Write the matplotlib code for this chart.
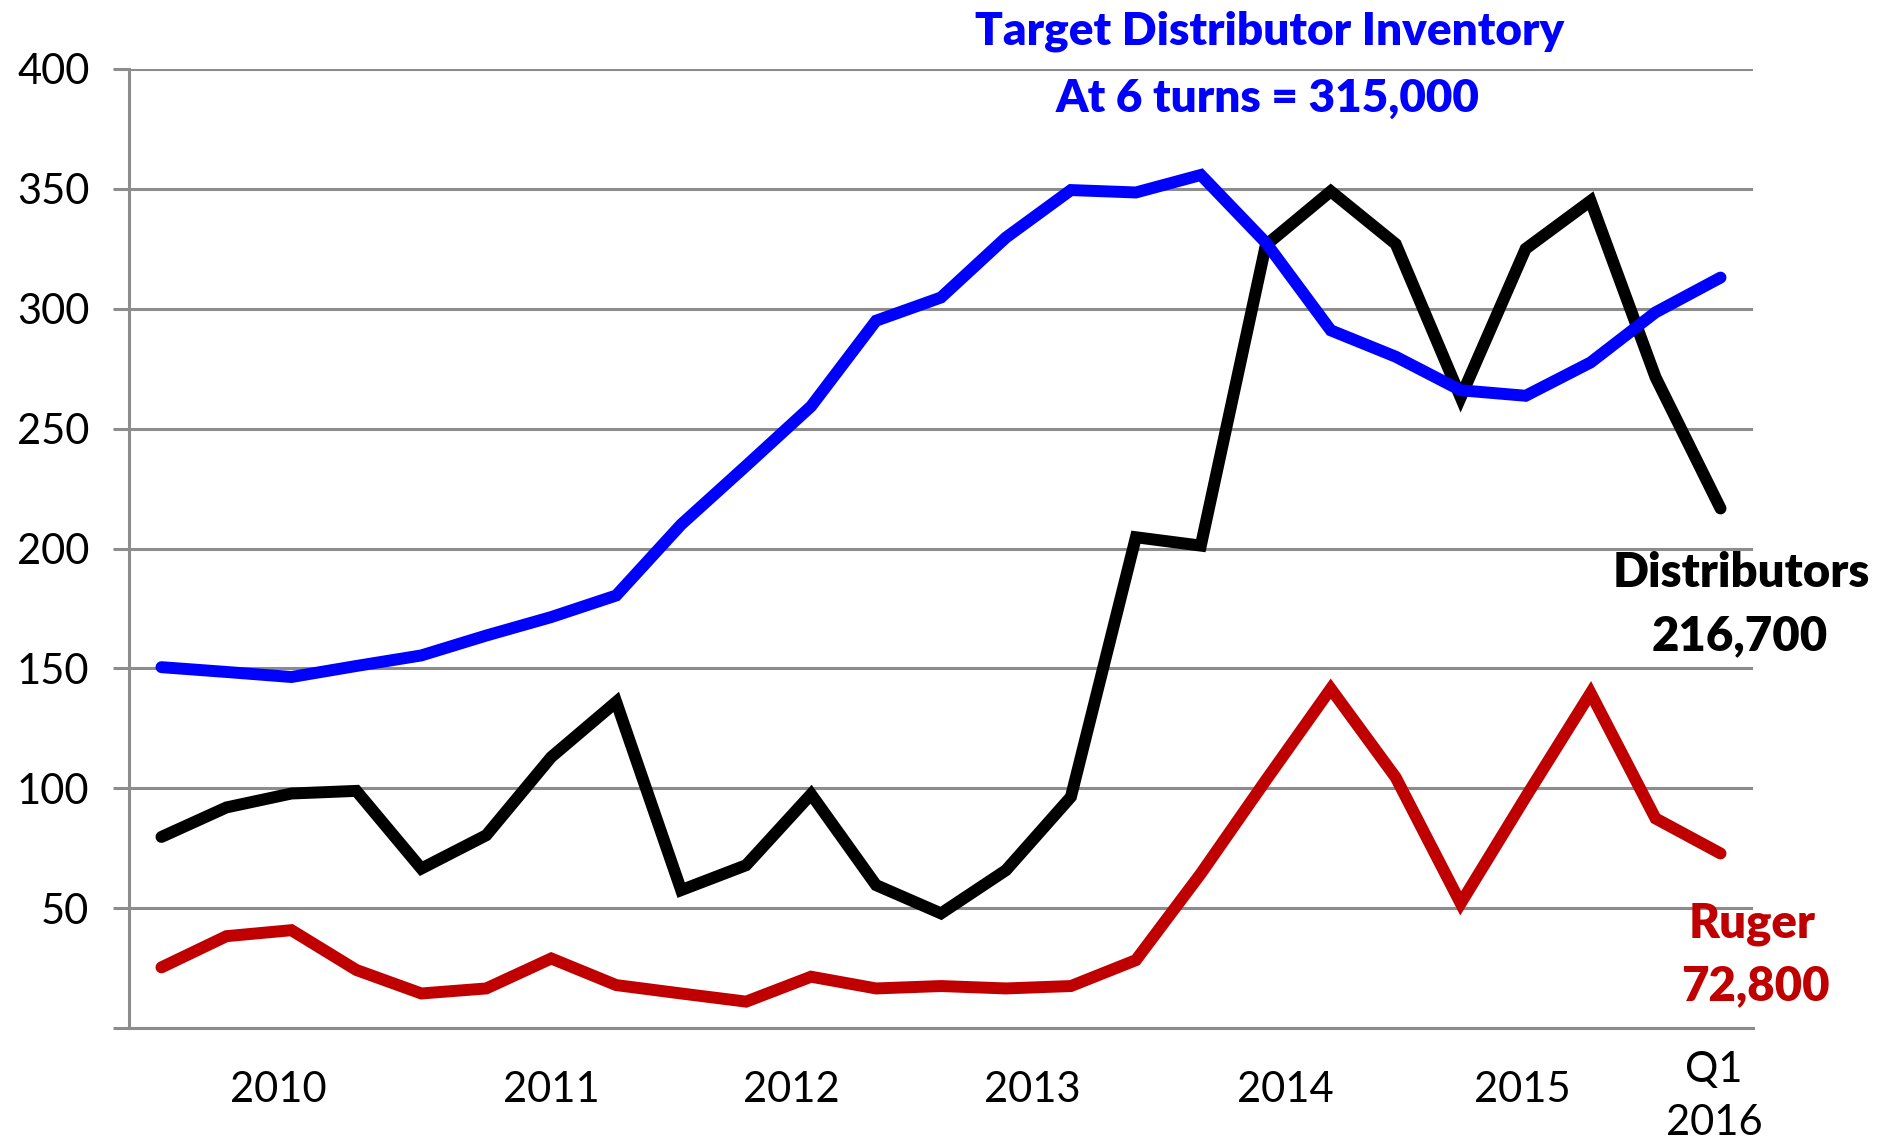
import matplotlib.pyplot as plt

# quarterly inventory (thousands of units), Q4 2009 .. Q1 2016
target = [150.5, 148.5, 146.4, 151, 155.4, 163.7, 171.4, 180.4, 210, 234.5,
          259.3, 295, 304.7, 329.7, 349.5, 348.5, 355.8, 327.6, 291, 280,
          266, 263.7, 277.6, 298.5, 313]
distributors = [79.7, 92, 97.8, 98.9, 66.5, 80.4, 113, 136, 57.5, 67.9,
                97.5, 59.6, 47.8, 65.8, 96.4, 204.7, 201.2, 326.5, 349, 327,
                263, 325, 345, 271.4, 216.7]
ruger = [25.3, 38.3, 40.8, 24.2, 14.4, 16.5, 29, 17.9, 14.4, 11,
         21.4, 16.5, 17.5, 16.5, 17.5, 28.3, 64.4, 103.3, 141.5, 104.5,
         52, 96.3, 139.7, 87.4, 72.8]

year_labels = ["2010", "2011", "2012", "2013", "2014", "2015"]
year_pos = [1.8, 6.0, 9.7, 13.4, 17.3, 20.95]
yticks = [0, 50, 100, 150, 200, 250, 300, 350, 400]

FONT = "Lato"
GRID = "#8c8c8c"

fig = plt.figure(figsize=(18.92, 11.43), dpi=100)
ax = fig.add_axes([129 / 1892, 1 - 1028 / 1143, (1753 - 129) / 1892, (1028 - 69) / 1143])

x = list(range(len(target)))
lw = 8.6
ax.plot(x, ruger, color="#C00000", lw=lw, solid_capstyle="round", solid_joinstyle="miter", zorder=3)
ax.plot(x, distributors, color="black", lw=lw, solid_capstyle="round", solid_joinstyle="miter", zorder=4)
ax.plot(x, target, color="#0000FF", lw=lw, solid_capstyle="round", solid_joinstyle="miter", zorder=5)

ax.set_xlim(-0.5, len(target) - 0.5)
ax.set_ylim(0, 400)
ax.set_yticks(yticks)
ax.set_yticklabels([""] + [str(v) for v in yticks[1:]], fontfamily=FONT, fontsize=30)
ax.set_xticks([])
ax.yaxis.grid(True, color=GRID, lw=2.2)
ax.set_axisbelow(True)
ax.tick_params(axis="y", length=11.5, width=2.2, color=GRID, pad=17)
for s in ["top", "right"]:
    ax.spines[s].set_visible(False)
for s in ["left", "bottom"]:
    ax.spines[s].set_color(GRID)
    ax.spines[s].set_linewidth(2.2)

for lab, pos in zip(year_labels, year_pos):
    ax.text(pos, -25.8, lab, ha="center", va="center", fontsize=30, fontfamily=FONT, clip_on=False)
ax.text(23.9, -17.5, "Q1", ha="center", va="center", fontsize=30, fontfamily=FONT, clip_on=False)
ax.text(23.9, -39.6, "2016", ha="center", va="center", fontsize=30, fontfamily=FONT, clip_on=False)

# annotations
def label(xp, yp, s, color, size):
    fig.text(xp / 1892, 1 - yp / 1143, s, ha="center", va="baseline", color=color,
             fontsize=size, fontweight="heavy", fontfamily=FONT)

label(1270, 44, "Target Distributor Inventory", "#0000FF", 33)
label(1268, 112, "At 6 turns = 315,000", "#0000FF", 33)
label(1741, 587, "Distributors", "black", 34)
label(1740, 650, "216,700", "black", 34)
label(1752, 937, "Ruger", "#C00000", 34)
label(1755, 1000, "72,800", "#C00000", 34)

fig.savefig("out.png", dpi=100)
